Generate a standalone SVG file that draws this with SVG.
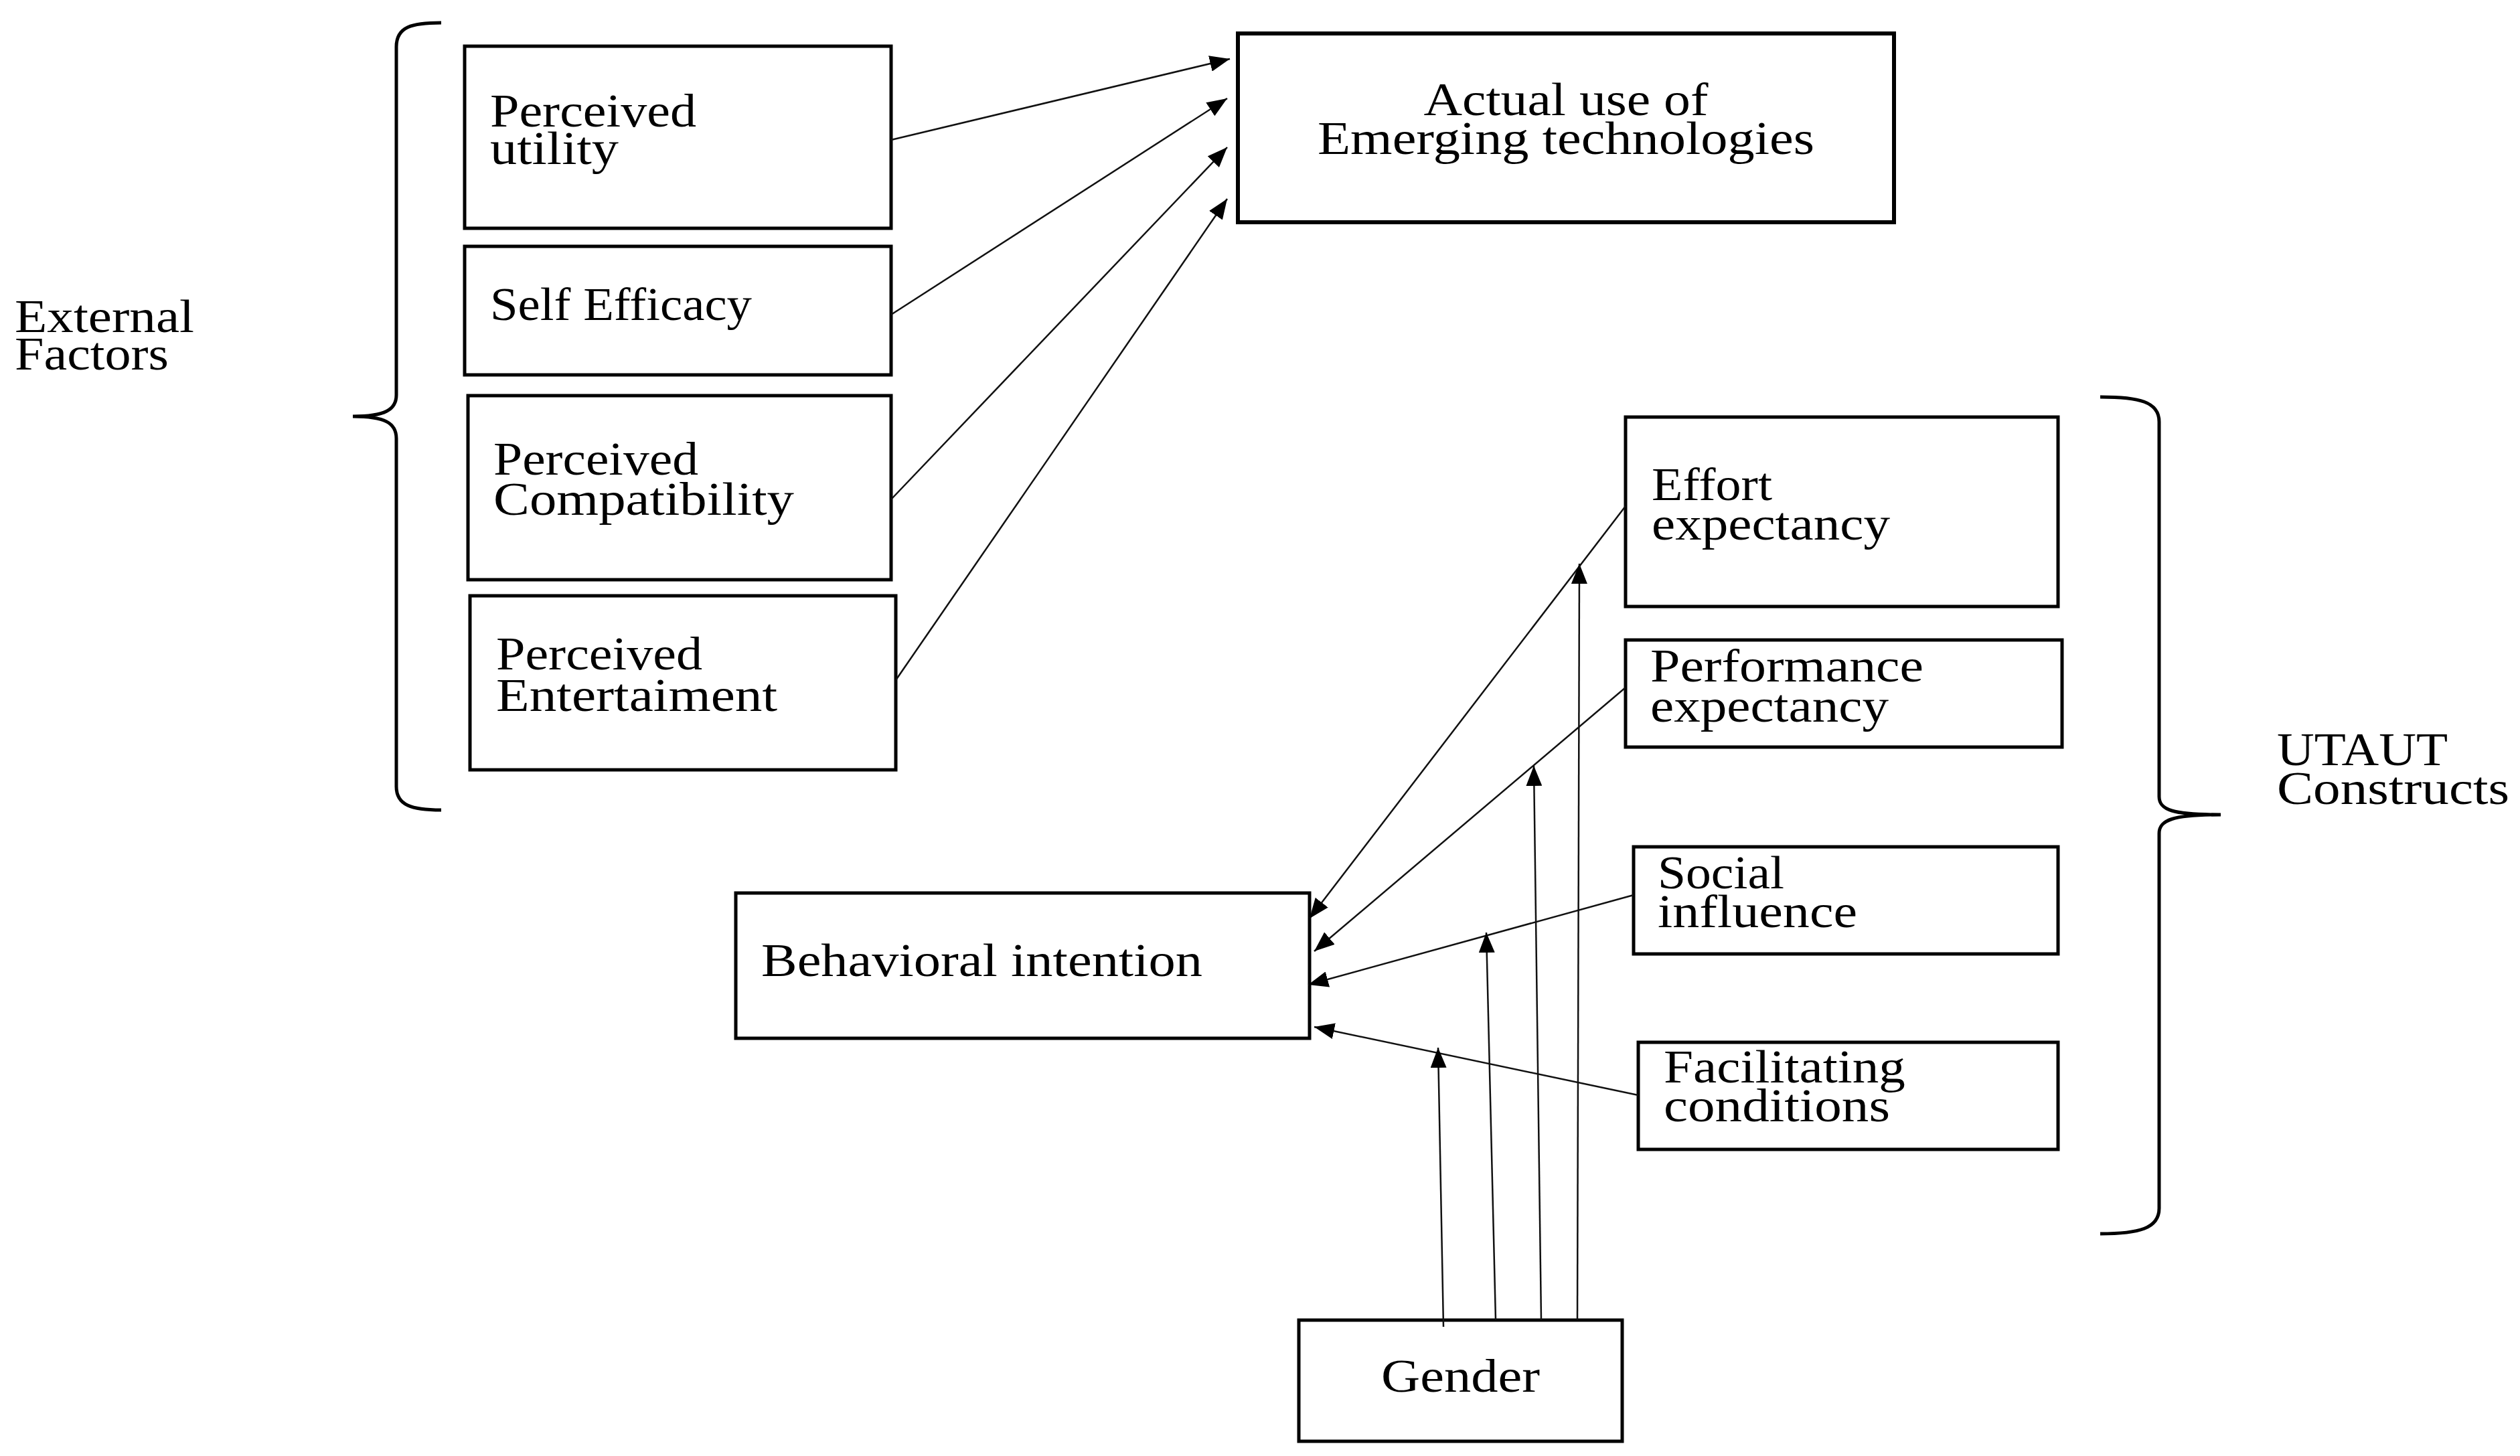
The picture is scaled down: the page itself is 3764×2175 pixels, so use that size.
<svg xmlns="http://www.w3.org/2000/svg" width="3764" height="2175" viewBox="0 0 3764 2175">
<style>
.box{fill:#fff;stroke:#000;stroke-width:5}
.t{font-family:"Liberation Serif","Times New Roman",serif;font-size:70px;fill:#000}
.c{fill:none;stroke:#111;stroke-width:2.5;marker-end:url(#ah)}
.brace{fill:none;stroke:#000;stroke-width:5}
</style>
<defs>
<marker id="ah" markerUnits="userSpaceOnUse" markerWidth="30" markerHeight="24" refX="30" refY="12" orient="auto">
<path d="M0,0 L30,12 L0,24 z" fill="#000"/>
</marker>
</defs>
<rect width="3764" height="2175" fill="#fff"/>

<g id="external-factors">
<path class="brace" d="M659,34 C615,34 592,40 592,70 L592,590 C592,612 575,622 527,622 C575,622 592,632 592,655 L592,1175 C592,1203 615,1210 659,1210"/>
<text class="t"><tspan x="22" y="496" textLength="268" lengthAdjust="spacingAndGlyphs">External</tspan><tspan x="22" y="552" textLength="230" lengthAdjust="spacingAndGlyphs">Factors</tspan></text>
</g>

<g id="perceived-utility">
<rect class="box" x="694" y="69" width="637" height="272"/>
<text class="t"><tspan x="732" y="189" textLength="308" lengthAdjust="spacingAndGlyphs">Perceived</tspan><tspan x="732" y="245" textLength="192" lengthAdjust="spacingAndGlyphs">utility</tspan></text>
</g>

<g id="self-efficacy">
<rect class="box" x="694" y="368" width="637" height="192"/>
<text class="t" x="732" y="478" textLength="391" lengthAdjust="spacingAndGlyphs">Self Efficacy</text>
</g>

<g id="perceived-compatibility">
<rect class="box" x="699" y="591" width="632" height="275"/>
<text class="t"><tspan x="737" y="709" textLength="306" lengthAdjust="spacingAndGlyphs">Perceived</tspan><tspan x="737" y="769" textLength="449" lengthAdjust="spacingAndGlyphs">Compatibility</tspan></text>
</g>

<g id="perceived-entertaiment">
<rect class="box" x="702" y="890" width="636" height="260"/>
<text class="t"><tspan x="741" y="1000" textLength="308" lengthAdjust="spacingAndGlyphs">Perceived</tspan><tspan x="741" y="1062" textLength="420" lengthAdjust="spacingAndGlyphs">Entertaiment</tspan></text>
</g>

<g id="actual-use">
<rect class="box" x="1849" y="50" width="980" height="282" style="stroke-width:6"/>
<text class="t" text-anchor="middle"><tspan x="2339" y="172" textLength="425" lengthAdjust="spacingAndGlyphs">Actual use of</tspan><tspan x="2339" y="230" textLength="742" lengthAdjust="spacingAndGlyphs">Emerging technologies</tspan></text>
</g>

<g id="effort-expectancy">
<rect class="box" x="2428" y="623" width="646" height="283"/>
<text class="t"><tspan x="2467" y="747" textLength="180" lengthAdjust="spacingAndGlyphs">Effort</tspan><tspan x="2467" y="806" textLength="356" lengthAdjust="spacingAndGlyphs">expectancy</tspan></text>
</g>

<g id="performance-expectancy">
<rect class="box" x="2428" y="956" width="652" height="160"/>
<text class="t"><tspan x="2465" y="1018" textLength="408" lengthAdjust="spacingAndGlyphs">Performance</tspan><tspan x="2465" y="1078" textLength="356" lengthAdjust="spacingAndGlyphs">expectancy</tspan></text>
</g>

<g id="social-influence">
<rect class="box" x="2440" y="1265" width="634" height="160"/>
<text class="t"><tspan x="2476" y="1327" textLength="189" lengthAdjust="spacingAndGlyphs">Social</tspan><tspan x="2476" y="1385" textLength="298" lengthAdjust="spacingAndGlyphs">influence</tspan></text>
</g>

<g id="facilitating-conditions">
<rect class="box" x="2447" y="1557" width="627" height="160"/>
<text class="t"><tspan x="2485" y="1617" textLength="361" lengthAdjust="spacingAndGlyphs">Facilitating</tspan><tspan x="2485" y="1675" textLength="338" lengthAdjust="spacingAndGlyphs">conditions</tspan></text>
</g>

<g id="utaut-constructs">
<path class="brace" d="M3137,593 C3195,593 3225,600 3225,630 L3225,1190 C3225,1210 3245,1217 3317,1217 C3245,1217 3225,1225 3225,1245 L3225,1805 C3225,1835 3195,1843 3137,1843"/>
<text class="t"><tspan x="3401" y="1143" textLength="255" lengthAdjust="spacingAndGlyphs">UTAUT</tspan><tspan x="3401" y="1201" textLength="347" lengthAdjust="spacingAndGlyphs">Constructs</tspan></text>
</g>

<g id="behavioral-intention">
<rect class="box" x="1099" y="1334" width="857" height="217"/>
<text class="t" x="1137" y="1458" textLength="659" lengthAdjust="spacingAndGlyphs">Behavioral intention</text>
</g>

<g id="gender">
<rect class="box" x="1940" y="1972" width="483" height="181"/>
<text class="t" x="2063" y="2079" textLength="237" lengthAdjust="spacingAndGlyphs">Gender</text>
</g>

<g id="connectors">
<line class="c" x1="1331" y1="209" x2="1837" y2="88"/>
<line class="c" x1="1331" y1="470" x2="1833" y2="147"/>
<line class="c" x1="1331" y1="746" x2="1833" y2="220"/>
<line class="c" x1="1338" y1="1016" x2="1833" y2="297"/>
<line class="c" x1="2428" y1="756" x2="1956" y2="1372"/>
<line class="c" x1="2428" y1="1027" x2="1963" y2="1421"/>
<line class="c" x1="2440" y1="1337" x2="1954" y2="1471"/>
<line class="c" x1="2447" y1="1636" x2="1963" y2="1534"/>
<line class="c" x1="2156" y1="1982" x2="2148" y2="1565"/>
<line class="c" x1="2234" y1="1972" x2="2220" y2="1393"/>
<line class="c" x1="2302" y1="1972" x2="2291" y2="1144"/>
<line class="c" x1="2356" y1="1972" x2="2359" y2="842"/>
</g>
</svg>
